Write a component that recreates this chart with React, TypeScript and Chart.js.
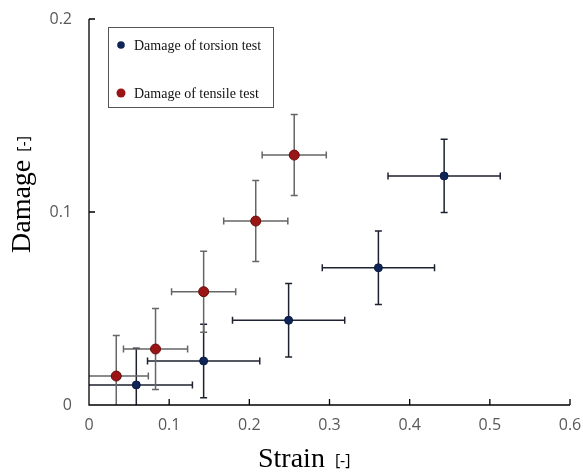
import React, { useEffect, useRef } from "react";
import { Chart, registerables } from "chart.js";

Chart.register(...registerables);

const torsionStrain = [0.059, 0.143, 0.249, 0.361, 0.443];
const torsionDamage = [0.0104, 0.0228, 0.0439, 0.0711, 0.1187];
const torsionStrainErr = [0.07, 0.07, 0.07, 0.07, 0.07];
const torsionDamageErr = [0.019, 0.019, 0.019, 0.019, 0.019];

const tensileStrain = [0.034, 0.083, 0.143, 0.208, 0.256];
const tensileDamage = [0.015, 0.029, 0.0587, 0.0953, 0.1295];
const tensileStrainErr = [0.04, 0.04, 0.04, 0.04, 0.04];
const tensileDamageErr = [0.021, 0.021, 0.021, 0.021, 0.021];

const xTicks = [0, 0.1, 0.2, 0.3, 0.4, 0.5, 0.6];
const yTicks = [0, 0.1, 0.2];

const seriesLabels = ["Damage of torsion test", "Damage of tensile test"];
const markerColors = ["#0f2557", "#9a1515"];
const markerBorders = ["#0a1a40", "#6a0c0c"];
const errColors = ["#1e2230", "#666666"];

const errorBarPlugin = {
  id: "errorBars",
  beforeDatasetsDraw(chart: any) {
    const { ctx, chartArea, scales } = chart;
    const xs = scales.x;
    const ys = scales.y;
    ctx.save();
    ctx.beginPath();
    ctx.rect(chartArea.left, chartArea.top, chartArea.right - chartArea.left, chartArea.bottom - chartArea.top);
    ctx.clip();
    chart.data.datasets.forEach((ds: any, i: number) => {
      ctx.strokeStyle = errColors[i];
      ctx.lineWidth = 1.5;
      const cap = 3.5;
      ds.data.forEach((p: any, j: number) => {
        const ex = ds.xErr[j];
        const ey = ds.yErr[j];
        const px = xs.getPixelForValue(p.x);
        const py = ys.getPixelForValue(p.y);
        const x1 = xs.getPixelForValue(p.x - ex);
        const x2 = xs.getPixelForValue(p.x + ex);
        const y1 = ys.getPixelForValue(p.y - ey);
        const y2 = ys.getPixelForValue(p.y + ey);
        ctx.beginPath();
        ctx.moveTo(x1, py);
        ctx.lineTo(x2, py);
        ctx.moveTo(x1, py - cap);
        ctx.lineTo(x1, py + cap);
        ctx.moveTo(x2, py - cap);
        ctx.lineTo(x2, py + cap);
        ctx.moveTo(px, y1);
        ctx.lineTo(px, y2);
        ctx.moveTo(px - cap, y1);
        ctx.lineTo(px + cap, y1);
        ctx.moveTo(px - cap, y2);
        ctx.lineTo(px + cap, y2);
        ctx.stroke();
      });
    });
    ctx.restore();
  },
};

const axesPlugin = {
  id: "axesDecor",
  afterDraw(chart: any) {
    const { ctx, chartArea, scales } = chart;
    const xs = scales.x;
    const ys = scales.y;
    const { left, right, top, bottom } = chartArea;
    ctx.save();
    ctx.strokeStyle = "#000";
    ctx.lineWidth = 1.3;
    ctx.beginPath();
    ctx.moveTo(left, top);
    ctx.lineTo(left, bottom);
    ctx.lineTo(right, bottom);
    xTicks.forEach((v) => {
      const x = xs.getPixelForValue(v);
      ctx.moveTo(x, bottom);
      ctx.lineTo(x, bottom - 6);
    });
    yTicks.forEach((v) => {
      const y = ys.getPixelForValue(v);
      ctx.moveTo(left, y);
      ctx.lineTo(left + 6, y);
    });
    ctx.stroke();

    // legend box
    ctx.strokeStyle = "#555";
    ctx.lineWidth = 1;
    ctx.strokeRect(108.5, 27.5, 165, 80);
    const legendY = [45, 93];
    seriesLabels.forEach((lab, i) => {
      ctx.beginPath();
      ctx.fillStyle = markerColors[i];
      ctx.arc(121, legendY[i], i === 0 ? 3.8 : 4.5, 0, Math.PI * 2);
      ctx.fill();
      ctx.fillStyle = "#111";
      ctx.font = "14px 'Liberation Serif', serif";
      ctx.textAlign = "left";
      ctx.textBaseline = "middle";
      ctx.fillText(lab, 134, legendY[i] + 1);
    });

    // axis titles
    ctx.fillStyle = "#000";
    ctx.textBaseline = "alphabetic";
    ctx.textAlign = "left";
    ctx.font = "28px 'Liberation Serif', serif";
    ctx.fillText("Strain", 258, 467);
    const sw = ctx.measureText("Strain").width;
    ctx.font = "16px 'Open Sans', sans-serif";
    ctx.fillText("[-]", 258 + sw + 10, 466);

    ctx.save();
    ctx.translate(30, 253);
    ctx.rotate(-Math.PI / 2);
    ctx.font = "28px 'Liberation Serif', serif";
    ctx.fillText("Damage", 0, 0);
    const dw = ctx.measureText("Damage").width;
    ctx.font = "16px 'Open Sans', sans-serif";
    ctx.fillText("[-]", dw + 8, -1);
    ctx.restore();
    ctx.restore();
  },
};

const zeroPad = (s: any) => {
  s.paddingTop = 0;
  s.paddingBottom = 0;
  s.paddingLeft = 0;
  s.paddingRight = 0;
};

export default function App() {
  const ref = useRef<HTMLCanvasElement | null>(null);
  useEffect(() => {
    if (!ref.current) return;
    const mk = (xsArr: number[], ysArr: number[]) => xsArr.map((x, i) => ({ x, y: ysArr[i] }));
    const chart = new Chart(ref.current, {
      type: "scatter",
      data: {
        datasets: [
          {
            label: seriesLabels[0],
            data: mk(torsionStrain, torsionDamage),
            xErr: torsionStrainErr,
            yErr: torsionDamageErr,
            pointRadius: 4,
            pointBackgroundColor: markerColors[0],
            pointBorderColor: markerBorders[0],
            pointBorderWidth: 1,
          } as any,
          {
            label: seriesLabels[1],
            data: mk(tensileStrain, tensileDamage),
            xErr: tensileStrainErr,
            yErr: tensileDamageErr,
            pointRadius: 5,
            pointBackgroundColor: markerColors[1],
            pointBorderColor: markerBorders[1],
            pointBorderWidth: 1,
          } as any,
        ],
      },
      options: {
        responsive: false,
        animation: false,
        layout: { padding: { left: 0, top: 19, right: 13, bottom: 0 } },
        plugins: { legend: { display: false }, tooltip: { enabled: false } },
        scales: {
          x: {
            type: "linear",
            min: 0,
            max: 0.6,
            afterFit: (s: any) => {
              s.height = 67;
              zeroPad(s);
            },
            afterBuildTicks: (s: any) => {
              s.ticks = xTicks.map((v) => ({ value: v }));
            },
            grid: { display: false, drawTicks: false },
            border: { display: false },
            ticks: {
              padding: 11,
              color: "#595959",
              font: { family: "'Open Sans', sans-serif", size: 16 },
              callback: (v: any) => String(Math.round(Number(v) * 10) / 10),
            },
          },
          y: {
            type: "linear",
            min: 0,
            max: 0.2,
            afterFit: (s: any) => {
              s.width = 89;
              zeroPad(s);
            },
            afterBuildTicks: (s: any) => {
              s.ticks = yTicks.map((v) => ({ value: v }));
            },
            grid: { display: false, drawTicks: false },
            border: { display: false },
            ticks: {
              padding: 17,
              color: "#595959",
              font: { family: "'Open Sans', sans-serif", size: 16 },
              callback: (v: any) => String(Math.round(Number(v) * 10) / 10),
            },
          },
        },
      },
      plugins: [errorBarPlugin, axesPlugin],
    });
    return () => chart.destroy();
  }, []);
  return (
    <div style={{ position: "fixed", left: 0, top: 0, width: 583, height: 472, background: "#fff" }}>
      <canvas ref={ref} width={583} height={472} style={{ display: "block" }} />
    </div>
  );
}
